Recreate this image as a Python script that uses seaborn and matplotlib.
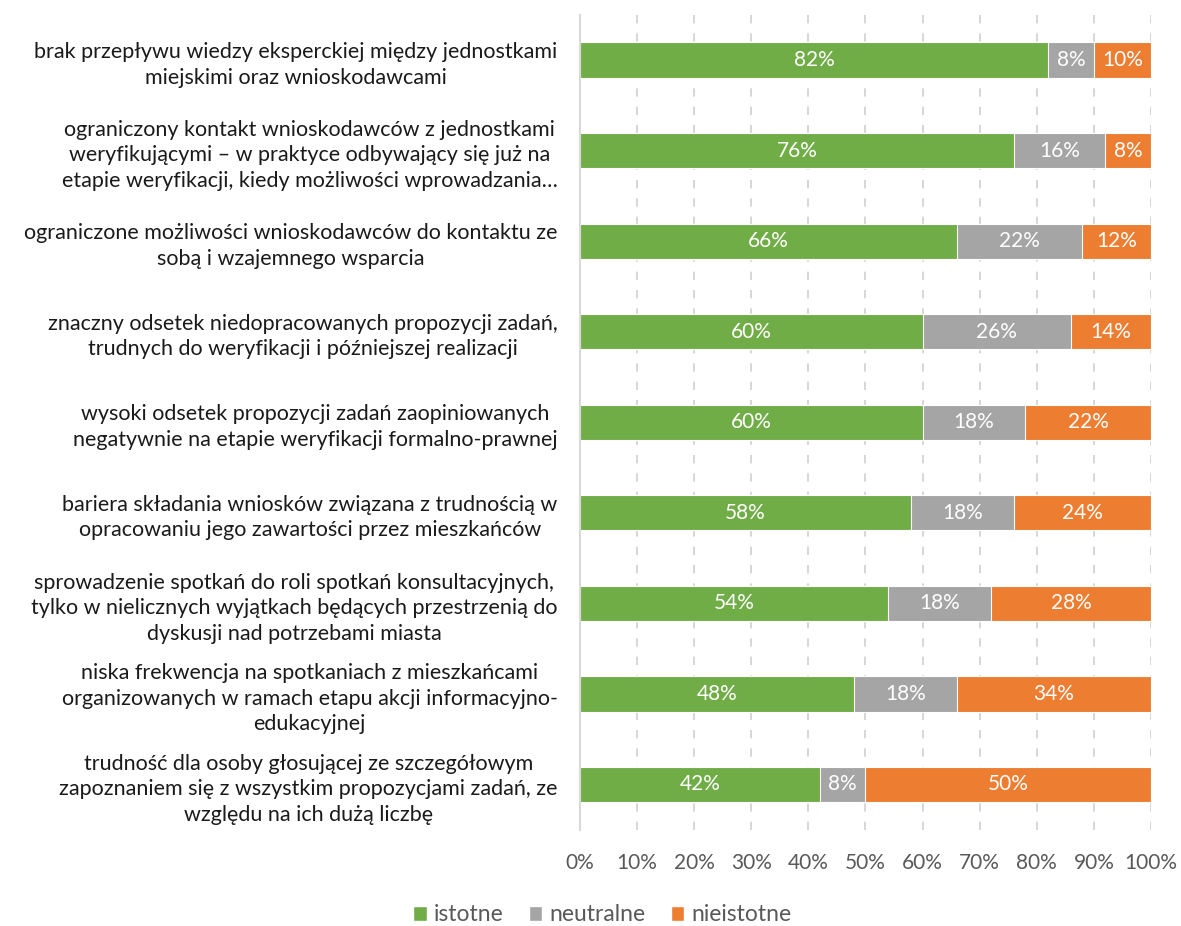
import matplotlib
matplotlib.use("Agg")
import matplotlib.pyplot as plt
import seaborn as sns
import pandas as pd
import numpy as np
from matplotlib.patches import Patch

# kategorie (etykiety osi Y, z podziałem na linie jak w oryginale)
categories = [
    "brak przepływu wiedzy eksperckiej między jednostkami\nmiejskimi oraz wnioskodawcami",
    "ograniczony kontakt wnioskodawców z jednostkami\nweryfikującymi – w praktyce odbywający się już na\netapie weryfikacji, kiedy możliwości wprowadzania…",
    "ograniczone możliwości wnioskodawców do kontaktu ze\nsobą i wzajemnego wsparcia",
    "znaczny odsetek niedopracowanych propozycji zadań,\ntrudnych do weryfikacji i późniejszej realizacji",
    "wysoki odsetek propozycji zadań zaopiniowanych\nnegatywnie na etapie weryfikacji formalno-prawnej",
    "bariera składania wniosków związana z trudnością w\nopracowaniu jego zawartości przez mieszkańców",
    "sprowadzenie spotkań do roli spotkań konsultacyjnych,\ntylko w nielicznych wyjątkach będących przestrzenią do\ndyskusji nad potrzebami miasta",
    "niska frekwencja na spotkaniach z mieszkańcami\norganizowanych w ramach etapu akcji informacyjno-\nedukacyjnej",
    "trudność dla osoby głosującej ze szczegółowym\nzapoznaniem się z wszystkim propozycjami zadań, ze\nwzględu na ich dużą liczbę",
]
istotne = [82, 76, 66, 60, 60, 58, 54, 48, 42]
neutralne = [8, 16, 22, 26, 18, 18, 18, 18, 8]
nieistotne = [10, 8, 12, 14, 22, 24, 28, 34, 50]

series = ["istotne", "neutralne", "nieistotne"]
colors = ["#70AD47", "#A5A5A5", "#ED7D31"]

sns.set_theme(style="white")
plt.rcParams["font.family"] = ["Lato", "DejaVu Sans"]

df = pd.DataFrame({"cat": categories, "istotne": istotne,
                   "neutralne": neutralne, "nieistotne": nieistotne})
df["c1"] = df["istotne"]
df["c2"] = df["istotne"] + df["neutralne"]
df["c3"] = df["c2"] + df["nieistotne"]

fig = plt.figure(figsize=(11.81, 9.26), dpi=100)
ax = fig.add_axes([0.491, 0.104, 0.4836, 0.88])

# rysowanie od najdłuższego (skumulowane) do najkrótszego
for col, c in zip(["c3", "c2", "c1"], colors[::-1]):
    sns.barplot(data=df, x=col, y="cat", color=c, orient="h", width=0.39,
                edgecolor="white", linewidth=0.8, saturation=1, ax=ax, zorder=3)

# etykiety wartości
for i in range(len(categories)):
    starts = [0, istotne[i], istotne[i] + neutralne[i]]
    vals = [istotne[i], neutralne[i], nieistotne[i]]
    for s, v in zip(starts, vals):
        ax.text(s + v / 2, i, f"{v}%", ha="center", va="center",
                color="white", fontsize=15, zorder=4)

ax.set_xlim(0, 100)
ax.set_ylim(len(categories) - 0.5, -0.5)
ax.set_xticks(np.arange(0, 101, 10))
ax.set_xticklabels([f"{t}%" for t in range(0, 101, 10)], fontsize=15, color="#595959")
ax.tick_params(axis="x", length=0, pad=17)
ax.tick_params(axis="y", length=0, pad=16)
for lab in ax.get_yticklabels():
    lab.set_fontsize(15.5)
    lab.set_color("#1a1a1a")
    lab.set_multialignment("center")
    lab.set_linespacing(1.35)
ax.set_xlabel("")
ax.set_ylabel("")
ax.xaxis.grid(True, color="#D0D0D0", linestyle=(0, (5, 6)), linewidth=1.2, zorder=0)
ax.yaxis.grid(False)
for sp in ["top", "right", "bottom"]:
    ax.spines[sp].set_visible(False)
ax.spines["left"].set_color("#D9D9D9")
ax.spines["left"].set_linewidth(1.5)
ax.spines["left"].set_zorder(5)

handles = [Patch(facecolor=c, label=s) for s, c in zip(series, colors)]
fig.legend(handles=handles, loc="center", bbox_to_anchor=(0.51, 0.012), ncol=3,
           frameon=False, fontsize=16.5, handlelength=0.6, handleheight=0.6,
           handletextpad=0.3, columnspacing=1.1, labelcolor="#595959")

fig.savefig("out.png", dpi=100)
